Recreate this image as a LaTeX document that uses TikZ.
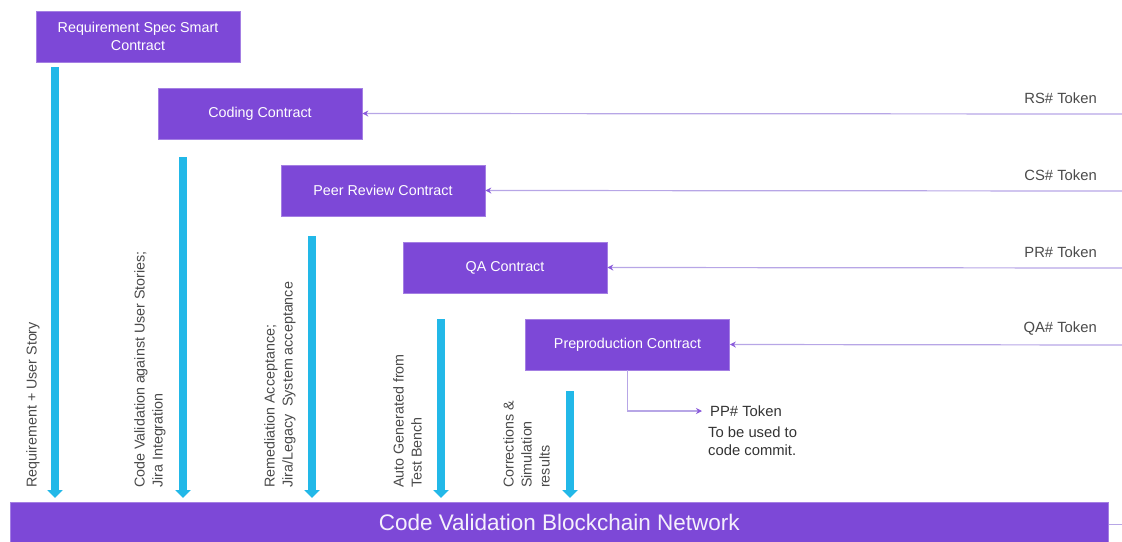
\documentclass[tikz,border=0pt]{standalone}
\usepackage{fontspec}
\setmainfont{Liberation Sans}
\usetikzlibrary{arrows.meta}
\definecolor{contract}{HTML}{7D48D7}
\definecolor{flow}{HTML}{22B8E8}
\definecolor{tokenline}{HTML}{B7A6E6}
\definecolor{tokentip}{HTML}{8A5ADB}
\definecolor{labelgray}{HTML}{4A4A4A}
\tikzset{
  contractbox/.style={fill=contract, draw=contract!70!white, line width=0.6pt,
    minimum width=204pt, minimum height=51pt, inner sep=0pt,
    text=white, font=\fontsize{14.3}{18}\selectfont, align=center},
  flowarrow/.style={draw=flow, line width=7.5pt,
    -{Triangle[width=15pt,length=8pt]}},
  tokenarrow/.style={draw=tokenline, line width=1.2pt,
    -{Stealth[width=6pt,length=6pt,color=tokentip]}},
  flowlabel/.style={rotate=90, anchor=north west, inner sep=0pt,
    align=left, text=labelgray, font=\fontsize{14.3}{18}\selectfont},
  tokenlabel/.style={text=labelgray, font=\fontsize{14.8}{18}\selectfont, inner sep=0pt}
}
\begin{document}
\begin{tikzpicture}[x=1pt, y=-1pt]
\useasboundingbox (0,0) rectangle (1122,541);

% contracts
\node[contractbox] (rs) at (138,36.5) {Requirement Spec Smart\\Contract};
\node[contractbox] (cc) at (260,113.5) {Coding Contract};
\node[contractbox] (pr) at (383,190.5) {Peer Review Contract};
\node[contractbox] (qa) at (505,267.5) {QA Contract};
\node[contractbox] (pp) at (627.5,344.5) {Preproduction Contract};

% blockchain network bar
\node[fill=contract, draw=contract!70!white, line width=0.6pt, minimum width=1098pt,
  minimum height=41pt, inner sep=0pt, anchor=north west, text=white!92!contract,
  font=\fontsize{22.5}{26}\selectfont] (net) at (10,502) {Code Validation Blockchain Network};
\coordinate (netstub) at (1122,524);
\draw[tokenline, line width=1pt] (net.east |- netstub) -- (netstub);

% flows into the network
\coordinate (f1) at (55,67);
\coordinate (f2) at (183,157);
\coordinate (f3) at (312,236);
\coordinate (f4) at (441,319);
\coordinate (f5) at (570,391);
\foreach \f in {f1,f2,f3,f4,f5}
  \draw[flowarrow] (\f) -- ([yshift=4pt]\f |- net.north);

\node[flowlabel] (l1) at (26,488) {Requirement + User Story};
\node[flowlabel] (l2) at (134,488) {Code Validation against User Stories;\\Jira Integration};
\node[flowlabel] (l3) at (264,488) {Remediation Acceptance;\\Jira/Legacy\ \ System acceptance};
\node[flowlabel] (l4) at (393,488) {Auto Generated from\\Test Bench};
\node[flowlabel] (l5) at (503,488) {Corrections \&\\Simulation\\results};

% incoming tokens
\coordinate (t1) at (1122,114);
\coordinate (t2) at (1122,191);
\coordinate (t3) at (1122,268);
\coordinate (t4) at (1122,345);
\draw[tokenarrow] (t1) -- (cc.east);
\draw[tokenarrow] (t2) -- (pr.east);
\draw[tokenarrow] (t3) -- (qa.east);
\draw[tokenarrow] (t4) -- (pp.east);
\node[tokenlabel, anchor=south east] (k1) at (1097,104) {RS\# Token};
\node[tokenlabel, anchor=south east] (k2) at (1097,181) {CS\# Token};
\node[tokenlabel, anchor=south east] (k3) at (1097,258) {PR\# Token};
\node[tokenlabel, anchor=south east] (k4) at (1097,335) {QA\# Token};

% outgoing token
\node[tokenlabel, anchor=west, text=black!80] (ppt) at (710,411) {PP\# Token};
\node[tokenlabel, anchor=north west, align=left, text=black!80] (ppn) at (708,427) {To be used to\\code commit.};
\draw[tokenarrow] (pp.south) -- (pp.south |- ppt.west) -- ([xshift=-8pt]ppt.west);
\end{tikzpicture}
\end{document}
